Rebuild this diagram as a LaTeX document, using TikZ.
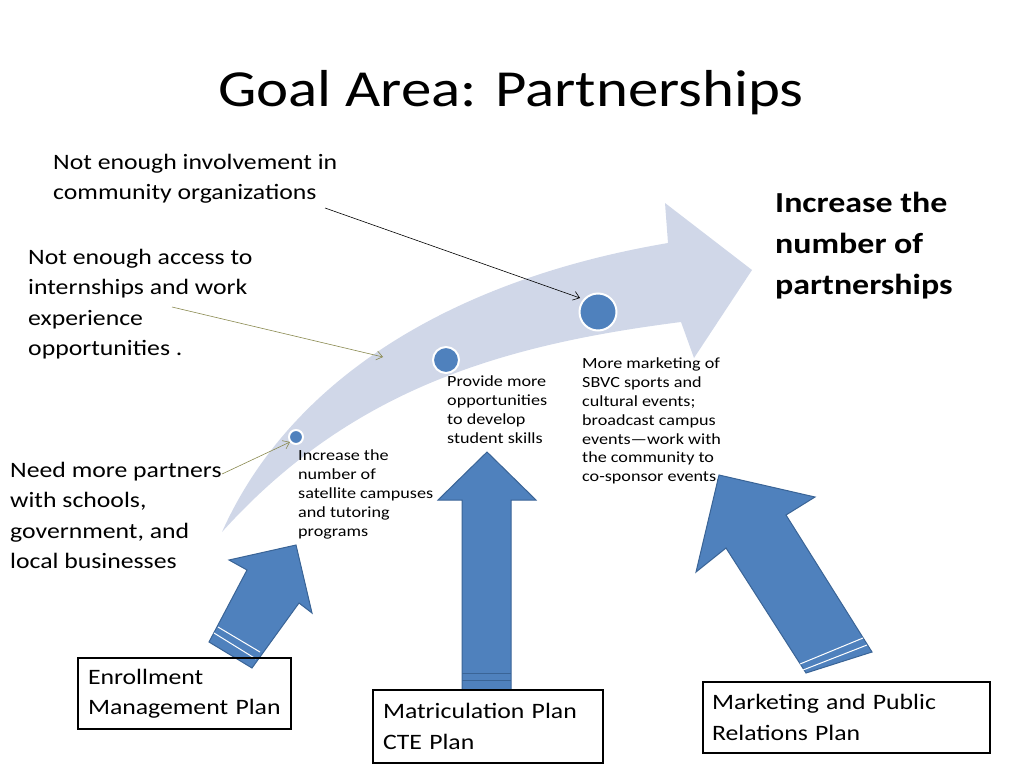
\documentclass[tikz,border=0pt]{standalone}
\usepackage{fontspec}
\setmainfont[FakeStretch=1.17]{Carlito}
\usetikzlibrary{arrows.meta}
\definecolor{blockblue}{HTML}{4F81BD}
\definecolor{blockedge}{HTML}{3A6496}
\definecolor{pathgray}{HTML}{D0D7E8}
\definecolor{olive}{HTML}{8A8A50}
\tikzset{
  blockarrow/.style={fill=blockblue, draw=blockedge, line width=1pt},
  dotmark/.style={circle, fill=blockblue, draw=white, line width=2pt, inner sep=0pt},
  cause/.style={anchor=north west, align=left, inner sep=0pt, font=\fontsize{22}{30.5}\selectfont},
  stepnote/.style={anchor=north west, align=left, inner sep=0pt, font=\fontsize{15.5}{18.8}\selectfont},
  planbox/.style={draw, line width=2pt, anchor=north west, align=left, inner xsep=10pt, inner ysep=6pt, font=\fontsize{22}{30.5}\selectfont},
  pointer/.style={-{Straight Barb[length=6pt,width=9pt]}, line width=0.6pt}
}
\begin{document}
\begin{tikzpicture}[x=1pt,y=-1pt]
\useasboundingbox (0,0) rectangle (1024,768);

% title
\node[font=\fontsize{52}{60}\selectfont] (title) at (511,93) {Goal Area: Partnerships};

% curved path arrow
\fill[pathgray] (222,532) .. controls (290,380) and (450,280) .. (668,243)
  -- (665,203) -- (752,270) -- (694,358) -- (681,322)
  .. controls (500,345) and (350,390) .. (222,532) -- cycle;

% steps on the path
\node[dotmark, minimum size=14pt] (s1) at (296,437) {};
\node[dotmark, minimum size=26pt] (s2) at (446,360) {};
\node[dotmark, minimum size=37pt] (s3) at (598,312) {};

\node[stepnote] (n1) at (298,450) {Increase the\\number of\\satellite campuses\\and tutoring\\programs};
\node[stepnote] (n2) at (447,376) {Provide more\\opportunities\\to develop\\student skills};
\node[stepnote] (n3) at (582,358) {More marketing of\\SBVC sports and\\cultural events;\\broadcast campus\\events\textemdash work with\\the community to\\co-sponsor events.};

% goal
\node[anchor=north west, align=left, inner sep=0pt, font=\fontsize{29}{41}\bfseries\selectfont] (goal) at (775,192) {Increase the\\number of\\partnerships};

% causes
\node[cause] (c1) at (53,154) {Not enough involvement in\\community organizations};
\node[cause] (c2) at (28,249) {Not enough access to\\internships and work\\experience\\opportunities .};
\node[cause] (c3) at (10,462) {Need more partners\\with schools,\\government, and\\local businesses};

\coordinate (p1) at (325,208);
\coordinate (p2) at (172,307);
\coordinate (p3) at (222,474);
\draw[pointer, black] (p1) -- (580,298);
\draw[pointer, olive] (p2) -- (383,357);
\draw[pointer, olive] (p3) -- (290,442);

% block arrows
\draw[blockarrow] (209,642) -- (247,570) -- (229,560) -- (296,545) -- (312,613)
  -- (299,603) -- (252,668) -- cycle;
\draw[white, line width=1pt] (214,633) -- (256,659);
\draw[white, line width=1pt] (218,627) -- (260,652);

\draw[blockarrow] (462,690) -- (462,500) -- (438,500) -- (487,452) -- (536,500)
  -- (511,500) -- (511,690) -- cycle;
\draw[blockedge, line width=1pt] (462,673) -- (511,673);
\draw[blockedge, line width=1pt] (462,680) -- (511,680);

\draw[blockarrow] (806,673) -- (726,548) -- (696,572) -- (719,475) -- (815,497)
  -- (786,515) -- (872,652) -- cycle;
\draw[white, line width=1pt] (800,664) -- (863,638);
\draw[white, line width=1pt] (803,670) -- (867,645);

% plans
\node[planbox, text width=193pt, minimum height=71pt] (pl1) at (77,657) {Enrollment\\Management Plan};
\node[planbox, text width=210pt, minimum height=73pt] (pl2) at (372,689) {Matriculation Plan\\CTE Plan};
\node[planbox, text width=269pt, minimum height=71pt, inner xsep=9pt] (pl3) at (702,681) {Marketing and Public\\Relations Plan};
\end{tikzpicture}
\end{document}
